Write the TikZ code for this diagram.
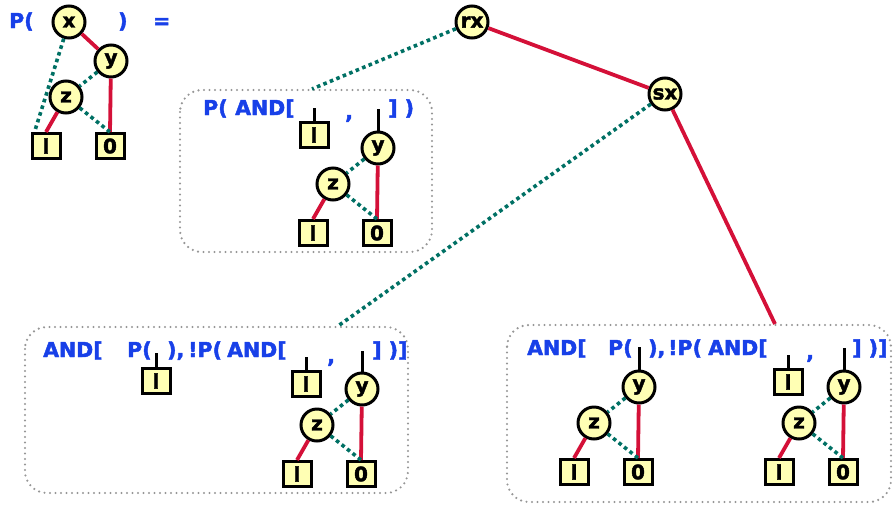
\documentclass[tikz,border=0pt]{standalone}
\usepackage{fontspec}
\setmainfont{DejaVu Sans}[BoldFeatures={FakeBold=2}]
\definecolor{lblue}{RGB}{24,64,232}
\definecolor{ered}{RGB}{212,16,56}
\definecolor{eteal}{RGB}{0,112,100}
\definecolor{nfill}{RGB}{255,255,180}
\definecolor{bgray}{RGB}{150,150,150}
\tikzset{
  vnode/.style={circle, draw=black, line width=3pt, fill=nfill, minimum size=32pt,
    inner sep=0pt, font=\fontsize{20}{20}\selectfont\bfseries},
  leaf/.style={rectangle, draw=black, line width=3pt, fill=nfill, minimum width=28pt,
    minimum height=25pt, inner sep=0pt, font=\fontsize{20}{20}\selectfont\bfseries},
  hi/.style={draw=ered, line width=3.8pt},
  lo/.style={draw=eteal, line width=3.6pt, dash pattern=on 3.6pt off 3.4pt},
  stem/.style={draw=black, line width=3pt},
  frame/.style={draw=bgray, line width=2.4pt, rounded corners=22pt,
    dash pattern=on 0pt off 5.5pt, line cap=round},
  lbl/.style={anchor=base west, text=lblue, inner sep=0pt,
    font=\fontsize{20.5}{20.5}\selectfont\bfseries},
}
% y-z-(l,0) subtree: #1 name prefix, (#2,#3) centre of the y node
\newcommand{\ytree}[3]{%
  \node[vnode] (#1y) at (#2,#3) {y};
  \node[vnode] (#1z) at ({#2-45},{#3+36}) {z};
  \node[leaf] (#1l) at ({#2-65},{#3+85}) {l};
  \node[leaf] (#1o) at ({#2-1},{#3+85}) {0};
  \draw[lo] (#1y) -- (#1z);
  \draw[hi] (#1y) -- (#1o.north);
  \draw[hi] (#1z) -- (#1l.north);
  \draw[lo] (#1z) -- (#1o.north);
}
\begin{document}
\begin{tikzpicture}[x=1pt,y=-1pt]
\useasboundingbox (0,0) rectangle (893,504);

% frames
\draw[frame] (180,90) rectangle (432,252);
\draw[frame] (25,327) rectangle (408,493);
\draw[frame] (507,325) rectangle (891,502);

% left-hand side: P( tree ) =
\node[lbl] (tp) at (9,28) {P(};
\node[lbl] (tc) at (118,28) {)};
\node[lbl] (teq) at (153,28) {=};
\node[vnode] (x) at (69,22) {x};
\ytree{a}{111}{61}
\draw[hi] (x) -- (ay);
\draw[lo] (x) -- ([xshift=4pt]al.north west);

% root of the result
\node[vnode] (rx) at (472,22) {rx};
\node[vnode] (sx) at (665,94) {sx};
\coordinate (f1) at (312,89);
\coordinate (f3) at (338,326);
\coordinate (f4) at (775,324);
\draw[hi] (rx) -- (sx);
\draw[lo] (rx) -- (f1);
\draw[lo] (sx) -- (f3);
\draw[hi] (sx) -- (f4);

% frame 1
\node[lbl] (p1a) at (203,115) {P(};
\node[lbl] (p1b) at (235,115) {AND[};
\node[lbl] (p1c) at (345,119) {,};
\node[lbl] (p1d) at (388,115) {] )};
\node[leaf] (b1l) at (314,135) {l};
\draw[stem] (b1l.north) -- ++(0,-13);
\ytree{b}{378}{148}
\draw[stem] (by.north) -- ++(0,-22);

% frame 3
\node[lbl] (p3a) at (43,357) {AND[};
\node[lbl] (p3b) at (127,357) {P(};
\node[lbl] (p3c) at (167,357) {),};
\node[lbl] (p3d) at (188,357) {!P(};
\node[lbl] (p3e) at (227,357) {AND[};
\node[lbl] (p3f) at (327,363) {,};
\node[lbl] (p3g) at (372,357) {] )]};
\node[leaf] (c1l) at (156,381) {l};
\draw[stem] (c1l.north) -- ++(0,-14);
\node[leaf] (c2l) at (306,384) {l};
\draw[stem] (c2l.north) -- ++(0,-13);
\ytree{c}{362}{389}
\draw[stem] (cy.north) -- ++(0,-21);

% frame 4
\node[lbl] (p4a) at (527,355) {AND[};
\node[lbl] (p4b) at (608,355) {P(};
\node[lbl] (p4c) at (648,355) {),};
\node[lbl] (p4d) at (668,355) {!P(};
\node[lbl] (p4e) at (708,355) {AND[};
\node[lbl] (p4f) at (806,359) {,};
\node[lbl] (p4g) at (852,355) {] )]};
\ytree{d}{639}{387}
\draw[stem] (dy.north) -- ++(0,-23);
\node[leaf] (d2l) at (788,382) {l};
\draw[stem] (d2l.north) -- ++(0,-13);
\ytree{e}{844}{387}
\draw[stem] (ey.north) -- ++(0,-22);
\end{tikzpicture}
\end{document}
